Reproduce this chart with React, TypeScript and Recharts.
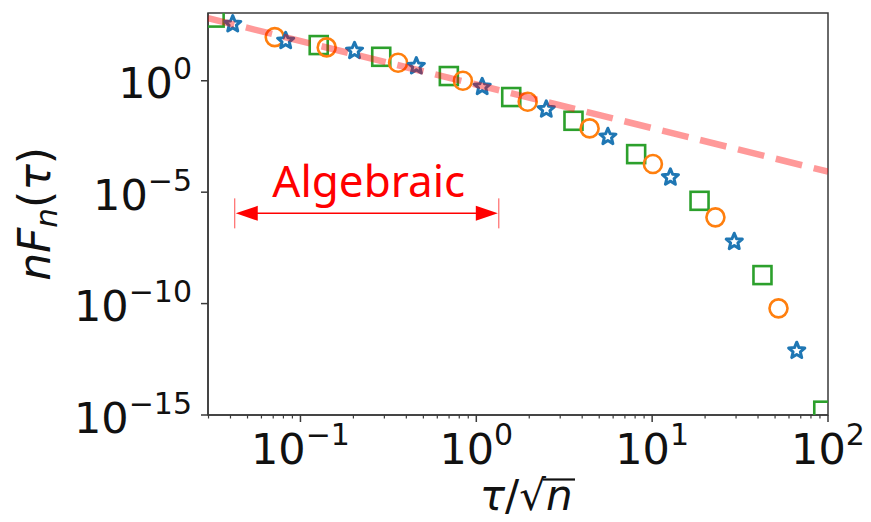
import { ReferenceArea, ReferenceLine, Scatter, ScatterChart, XAxis, YAxis } from "recharts";

// (log-log axes)
const squareX = [0.0325, 0.127, 0.288, 0.698, 1.58, 3.57, 8.11, 18.6, 42.4, 94];
const squareY = [685, 40, 11.9, 1.63, 0.186, 0.016, 5.1e-4, 4.1e-6, 1.9e-9, 1.56e-15];

const circleX = [0.0714, 0.141, 0.359, 0.839, 1.96, 4.41, 10.1, 22.9, 52.3];
const circleY = [91, 31.5, 6.4, 1.0, 0.114, 7.3e-3, 1.83e-4, 7.4e-7, 6.1e-11];

const starX = [0.0412, 0.0824, 0.203, 0.456, 1.08, 2.5, 5.6, 12.7, 29.3, 66.4];
const starY = [350, 62, 22.2, 4.57, 0.538, 0.052, 3.07e-3, 4.63e-5, 5.97e-8, 7.7e-13];

// algebraic guide line, end points
const guideX = [0.0298, 100];
const guideY = [650, 8.3e-5];

// arrow under the "Algebraic" label
const arrowX = [0.0423, 1.343];
const arrowY = 1.12e-6;

const xDomain = [0.0298, 100];
const yDomain = [1e-15, 1.1e3];
const xMajor = [0.1, 1, 10, 100];
const xMinor = [
  0.03, 0.04, 0.05, 0.06, 0.07, 0.08, 0.09,
  0.2, 0.3, 0.4, 0.5, 0.6, 0.7, 0.8, 0.9,
  2, 3, 4, 5, 6, 7, 8, 9,
  20, 30, 40, 50, 60, 70, 80, 90,
];
const yMajor = [1e-15, 1e-10, 1e-5, 1];

const toPoints = (xs: number[], ys: number[]) => xs.map((x, i) => ({ x, y: ys[i] }));

const FONT = "DejaVu Sans";
const AXIS = "#3a3a3a";

function expText(v: number) {
  const e = Math.round(Math.log10(v));
  return e < 0 ? "\u2212" + Math.abs(e) : String(e);
}

function XTick(props: any) {
  const { x, y, payload } = props;
  const major = xMajor.some((m) => Math.abs(m - payload.value) < 1e-9);
  if (!major) {
    return <line x1={x} y1={y} x2={x} y2={y + 3.5} stroke={AXIS} strokeWidth={1.2} />;
  }
  return (
    <g>
      <line x1={x} y1={y} x2={x} y2={y + 7} stroke={AXIS} strokeWidth={1.5} />
      <text x={x} y={y + 49} textAnchor="middle" fontFamily={FONT} fontSize={43} fill="#111">
        10
        <tspan fontSize={30} dy={-19}>
          {expText(payload.value)}
        </tspan>
      </text>
    </g>
  );
}

function YTick(props: any) {
  const { x, y, payload } = props;
  return (
    <g>
      <line x1={x - 7} y1={y} x2={x} y2={y} stroke={AXIS} strokeWidth={1.5} />
      <text x={x - 16} y={y + 17.5} textAnchor="end" fontFamily={FONT} fontSize={43} fill="#111">
        10
        <tspan fontSize={30} dy={-19}>
          {expText(payload.value)}
        </tspan>
      </text>
    </g>
  );
}

function SquareDot(props: any) {
  const { cx, cy } = props;
  return <rect x={cx - 9} y={cy - 9} width={18} height={18} fill="none" stroke="#2ca02c" strokeWidth={2.6} />;
}

function CircleDot(props: any) {
  const { cx, cy } = props;
  return <circle cx={cx} cy={cy} r={9} fill="none" stroke="#ff7f0e" strokeWidth={2.6} />;
}

function StarDot(props: any) {
  const { cx, cy } = props;
  let d = "";
  for (let i = 0; i < 10; i++) {
    const a = -Math.PI / 2 + (i * Math.PI) / 5;
    const r = i % 2 === 0 ? 8.5 : 3.8;
    d += (i ? "L" : "M") + (cx + r * Math.cos(a)).toFixed(2) + "," + (cy + r * Math.sin(a)).toFixed(2);
  }
  return <path d={d + "Z"} fill="#fff" stroke="#1f77b4" strokeWidth={3} strokeLinejoin="round" />;
}

function AlgebraicArrow(props: any) {
  const { x1, y1, x2 } = props;
  const red = "#ff0000";
  return (
    <g>
      <line x1={x1} y1={y1 - 15} x2={x1} y2={y1 + 15} stroke={red} strokeWidth={1} strokeOpacity={0.7} />
      <line x1={x2} y1={y1 - 15} x2={x2} y2={y1 + 15} stroke={red} strokeWidth={1} strokeOpacity={0.7} />
      <line x1={x1 + 15} y1={y1} x2={x2 - 15} y2={y1} stroke={red} strokeWidth={1.5} />
      <polygon points={`${x1 + 1},${y1} ${x1 + 23},${y1 - 7.5} ${x1 + 23},${y1 + 7.5}`} fill={red} />
      <polygon points={`${x2 - 1},${y1} ${x2 - 23},${y1 - 7.5} ${x2 - 23},${y1 + 7.5}`} fill={red} />
      <text x={(x1 + x2) / 2 + 2} y={y1 - 16.5} textAnchor="middle" fontFamily="Noto Sans" fontSize={44} fill={red}>
        Algebraic
      </text>
    </g>
  );
}

function XLabel(props: any) {
  const { viewBox } = props;
  const cx = viewBox.x + viewBox.width / 2;
  const base = viewBox.y + 95;
  const split = cx + 28;
  return (
    <g>
      <text x={split} y={base} textAnchor="end" fontFamily={FONT} fontSize={42} fill="#111">
        <tspan fontStyle="italic">τ</tspan>/√
      </text>
      <text x={split} y={base} fontFamily={FONT} fontSize={42} fontStyle="italic" fill="#111">
        n
      </text>
      <line x1={split - 3} y1={base - 30.5} x2={split + 29} y2={base - 30.5} stroke="#111" strokeWidth={2.2} />
    </g>
  );
}

function YLabel(props: any) {
  const { viewBox } = props;
  const cx = viewBox.x + 50;
  const cy = viewBox.y + viewBox.height / 2;
  return (
    <text x={cx} y={cy} transform={`rotate(-90, ${cx}, ${cy})`} textAnchor="middle" fontFamily={FONT} fontSize={44} fill="#111">
      <tspan fontStyle="italic">nF</tspan>
      <tspan fontStyle="italic" fontSize={31} dy={7}>
        n
      </tspan>
      <tspan dy={-7}>(</tspan>
      <tspan fontStyle="italic">τ</tspan>
      <tspan>)</tspan>
    </text>
  );
}

export default function App() {
  return (
    <div style={{ position: "absolute", left: 0, top: 0, width: 871, height: 522, background: "#fff" }}>
      <ScatterChart width={871} height={522} margin={{ top: 13, right: 43, bottom: 0, left: 0 }}>
        <XAxis
          type="number"
          dataKey="x"
          scale="log"
          domain={xDomain}
          allowDataOverflow
          ticks={[...xMajor, ...xMinor]}
          interval={0}
          tickLine={false}
          tickSize={0}
          tickMargin={0}
          tick={<XTick />}
          axisLine={{ stroke: AXIS, strokeWidth: 1.5 }}
          height={107}
          label={{ content: XLabel }}
        />
        <YAxis
          type="number"
          dataKey="y"
          scale="log"
          domain={yDomain}
          allowDataOverflow
          ticks={yMajor}
          interval={0}
          tickLine={false}
          tickSize={0}
          tickMargin={0}
          tick={<YTick />}
          axisLine={{ stroke: AXIS, strokeWidth: 1.5 }}
          width={208}
          label={{ content: YLabel }}
        />
        <ReferenceArea x1={xDomain[0]} x2={xDomain[1]} y1={yDomain[0]} y2={yDomain[1]} fill="none" stroke={AXIS} strokeWidth={1.5} />
        <Scatter data={toPoints(squareX, squareY)} shape={<SquareDot />} isAnimationActive={false} />
        <Scatter data={toPoints(circleX, circleY)} shape={<CircleDot />} isAnimationActive={false} />
        <Scatter data={toPoints(starX, starY)} shape={<StarDot />} isAnimationActive={false} />
        <Scatter
          data={toPoints(guideX, guideY)}
          shape={() => <g />}
          line={{ stroke: "#ff0000", strokeOpacity: 0.4, strokeWidth: 6.5, strokeDasharray: "27 12" }}
          isAnimationActive={false}
        />
        <ReferenceLine
          segment={[
            { x: arrowX[0], y: arrowY },
            { x: arrowX[1], y: arrowY },
          ]}
          shape={<AlgebraicArrow />}
        />
      </ScatterChart>
    </div>
  );
}
